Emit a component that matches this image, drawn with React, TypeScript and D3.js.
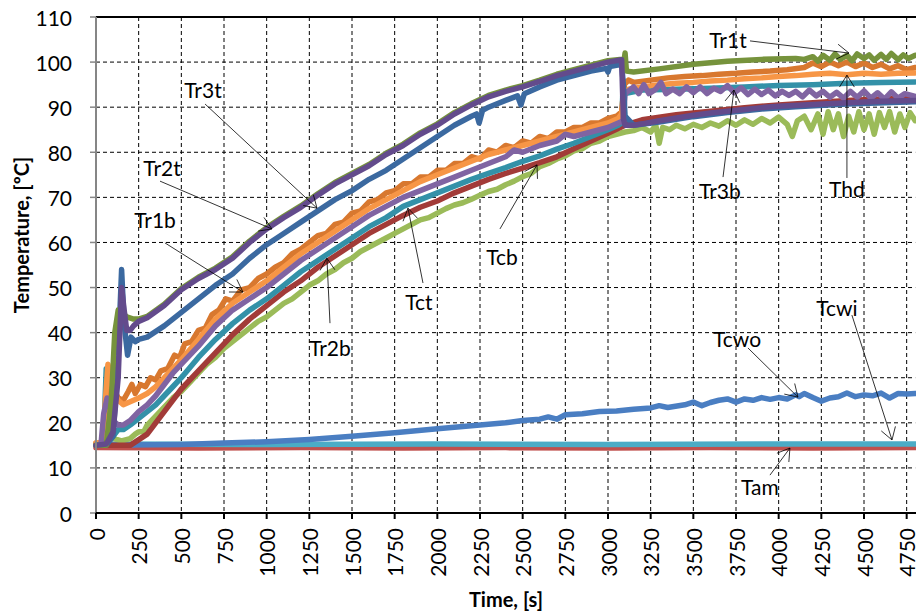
import React from 'react';
import * as d3 from 'd3';

type Pt = [number, number];

// axis ticks
const yTicks = [0, 10, 20, 30, 40, 50, 60, 70, 80, 90, 100, 110];
const xTicks = [0, 250, 500, 750, 1000, 1250, 1500, 1750, 2000, 2250, 2500, 2750, 3000, 3250, 3500, 3750, 4000, 4250, 4500, 4750];

// series: [time s, temperature °C]
const tam: Pt[] = [[0, 14.5], [600, 14.4], [1200, 14.5], [1800, 14.4], [2400, 14.5], [3000, 14.4], [3600, 14.5], [4200, 14.4], [4800, 14.5]];

const tcwi: Pt[] = [[0, 15.3], [1000, 15.2], [2000, 15.3], [3000, 15.2], [4000, 15.3], [4800, 15.3]];

const tcwo: Pt[] = [[0, 15], [500, 15.2], [750, 15.5], [1000, 15.8], [1250, 16.3], [1500, 17], [1750, 17.8], [2000, 18.7], [2250, 19.5], [2400, 20], [2500, 20.5], [2600, 20.8], [2650, 21.3], [2700, 20.8], [2750, 21.8], [2850, 22], [2950, 22.5], [3050, 22.6], [3150, 23], [3250, 23.3], [3300, 23.8], [3350, 23.4], [3450, 24], [3500, 24.6], [3550, 23.8], [3600, 24.5], [3650, 25], [3700, 25.3], [3750, 24.6], [3800, 25.3], [3850, 25], [3900, 25.6], [3950, 25.2], [4000, 25.6], [4050, 25.3], [4100, 26.2], [4120, 25.8], [4150, 26.5], [4200, 25.6], [4250, 24.8], [4300, 25.5], [4350, 25.8], [4400, 26.6], [4450, 25.8], [4500, 26.2], [4550, 26], [4600, 26.6], [4650, 25.5], [4700, 26.5], [4750, 26.4], [4800, 26.5]];

const tcb: Pt[] = [[0, 15], [60, 15.5], [80, 21], [92, 22], [105, 16.5], [150, 16], [200, 16.5], [230, 17.5], [250, 18], [280, 18], [300, 19.5], [350, 21.5], [400, 23.5], [450, 25.5], [500, 27], [550, 29], [600, 31], [650, 33], [700, 34.5], [750, 36.5], [800, 38], [850, 39.5], [900, 41], [950, 42.5], [1000, 43.5], [1050, 45], [1100, 46.5], [1150, 47.5], [1200, 49], [1250, 50.5], [1300, 51.5], [1350, 53], [1400, 54], [1450, 55.5], [1500, 56.5], [1550, 58], [1600, 59], [1650, 60], [1700, 61], [1750, 62], [1800, 63], [1850, 64], [1900, 65], [1950, 65.5], [2000, 66.5], [2050, 67.5], [2100, 68.3], [2150, 68.8], [2200, 69.6], [2250, 70.5], [2300, 71.3], [2350, 71.8], [2400, 72.8], [2450, 73.6], [2500, 74.6], [2550, 75.3], [2600, 76.8], [2650, 77.5], [2700, 78.5], [2750, 79.2], [2800, 80.3], [2850, 80.8], [2900, 82], [2950, 82.5], [3000, 83.5], [3050, 84], [3100, 84.5], [3150, 84.8], [3200, 85.5], [3250, 84.5], [3280, 86], [3300, 82], [3320, 85.5], [3360, 85], [3400, 86], [3450, 85.2], [3500, 86.2], [3550, 85.5], [3600, 86.5], [3650, 85.8], [3700, 87], [3750, 86], [3800, 87.2], [3850, 86.2], [3900, 87.5], [3950, 86.5], [4000, 87.8], [4050, 86.2], [4080, 83.5], [4110, 87], [4150, 88], [4190, 85], [4230, 88.5], [4260, 84], [4290, 89], [4320, 85], [4350, 88.5], [4380, 83.5], [4410, 88], [4440, 84.5], [4470, 89], [4500, 85], [4530, 88.5], [4560, 84], [4590, 88.8], [4620, 85.5], [4650, 89], [4680, 84.5], [4710, 88.5], [4740, 85.5], [4770, 88.8], [4800, 87]];

const tr2b: Pt[] = [[0, 15], [200, 15], [240, 16], [300, 17.5], [350, 20], [400, 22.5], [450, 25], [500, 27.5], [600, 31.5], [700, 35.5], [800, 39.5], [900, 43], [1000, 46], [1100, 49], [1200, 51.5], [1300, 54.5], [1400, 57], [1500, 59.5], [1600, 62], [1700, 64], [1800, 66], [1900, 67.8], [2000, 69.2], [2100, 71], [2200, 72.5], [2300, 74], [2400, 75.3], [2500, 76.5], [2600, 77.7], [2700, 79], [2800, 80.8], [2900, 82.5], [3000, 84.2], [3100, 86], [3200, 87.2], [3300, 87.8], [3400, 88.3], [3500, 88.7], [3600, 89.1], [3700, 89.5], [3800, 89.9], [3900, 90.2], [4000, 90.5], [4200, 91], [4400, 91.5], [4600, 91.8], [4800, 92]];

const tct: Pt[] = [[0, 15], [40, 15], [50, 22], [60, 32], [70, 28], [85, 20], [100, 17], [130, 18.5], [160, 18.5], [200, 19.5], [250, 21], [300, 22.5], [350, 24], [400, 26], [450, 28], [500, 30], [600, 34.5], [700, 38.5], [800, 42], [900, 45], [1000, 47.5], [1100, 50.5], [1200, 53.5], [1300, 56], [1400, 58.5], [1500, 61], [1600, 63.5], [1700, 65.5], [1800, 68], [1900, 69.5], [2000, 71], [2100, 72.5], [2200, 74], [2300, 75.3], [2400, 76.6], [2500, 78], [2600, 79.2], [2700, 80.7], [2800, 82], [2900, 83.5], [3000, 85], [3060, 86], [3080, 86.5], [3090, 96], [3100, 93], [3200, 93.8], [3400, 94], [3600, 94.2], [3800, 94.5], [4000, 94.8], [4200, 95], [4400, 95.3], [4600, 95.5], [4800, 95.6]];

const tr1b: Pt[] = [[0, 15.5], [40, 15.5], [60, 22], [75, 31], [90, 30], [110, 27], [130, 25.5], [160, 25], [190, 27], [210, 28.5], [230, 26.5], [260, 28.5], [290, 28], [320, 30], [350, 29.5], [380, 31.5], [420, 32], [460, 35], [490, 34.5], [520, 37.5], [560, 38], [600, 40.5], [640, 41], [680, 44], [720, 45], [760, 47.5], [800, 47], [850, 49.5], [900, 50], [950, 52], [1000, 53], [1050, 54.5], [1100, 55.5], [1150, 57.5], [1200, 58.5], [1250, 60], [1300, 61.5], [1350, 62], [1400, 64], [1450, 64.5], [1500, 66.5], [1550, 67], [1600, 69], [1650, 69.5], [1700, 71], [1750, 71.5], [1800, 73], [1850, 73], [1900, 74.5], [1950, 74.5], [2000, 76], [2050, 76], [2100, 77.5], [2150, 77.5], [2200, 79], [2250, 78.5], [2300, 80.5], [2350, 80], [2400, 81.5], [2450, 81], [2500, 82.5], [2550, 82], [2600, 83.5], [2650, 83], [2700, 84.5], [2750, 84.5], [2800, 85.5], [2850, 85.5], [2900, 86.5], [2950, 86.5], [3000, 87.5], [3050, 88], [3080, 89], [3095, 95], [3120, 96], [3150, 95.5], [3250, 96], [3350, 96.5], [3450, 96.8], [3550, 97], [3650, 97.3], [3750, 97.5], [3850, 97.8], [3950, 98], [4050, 98.3], [4150, 98.8], [4200, 99.8], [4250, 99], [4300, 100], [4350, 99.2], [4400, 100], [4450, 99], [4500, 99.8], [4550, 98.8], [4600, 99.5], [4650, 98.5], [4700, 99.2], [4750, 98.3], [4800, 98.8]];

const thd: Pt[] = [[0, 15.5], [40, 15.5], [55, 25], [70, 33], [85, 30], [100, 27], [130, 25], [160, 24], [190, 24.5], [220, 25], [250, 25.5], [300, 26.5], [350, 28], [400, 30], [450, 32], [500, 34], [600, 38.5], [700, 43], [800, 46.5], [900, 49], [1000, 51.5], [1100, 54.5], [1200, 57.5], [1300, 60], [1400, 62.5], [1500, 65], [1600, 67.5], [1700, 69.5], [1800, 71.5], [1900, 73.5], [2000, 75], [2100, 76.5], [2200, 78], [2300, 79.5], [2400, 80.5], [2500, 81.5], [2600, 82.5], [2700, 83.5], [2800, 84.5], [2900, 85.5], [3000, 86.5], [3060, 87.5], [3080, 88.5], [3095, 93], [3120, 94], [3200, 94.5], [3300, 95], [3400, 95.3], [3500, 95.5], [3600, 95.8], [3700, 96], [3800, 96.3], [3900, 96.5], [4000, 96.8], [4100, 97], [4200, 97.3], [4300, 97.5], [4400, 97.2], [4500, 97.5], [4600, 97.3], [4700, 97.5], [4800, 97.6]];

const tr3b: Pt[] = [[0, 15], [30, 15.5], [45, 22], [65, 25.5], [85, 23], [100, 20.5], [130, 19.5], [160, 19.5], [200, 20.5], [250, 22.5], [300, 24], [350, 26], [400, 28.5], [450, 31], [500, 33], [600, 37], [700, 41.5], [800, 45], [900, 47.5], [1000, 50], [1100, 53], [1200, 56], [1300, 58.5], [1400, 61], [1500, 63.5], [1600, 66], [1700, 68], [1800, 70], [1900, 71.5], [2000, 73], [2100, 74.5], [2200, 76], [2300, 77.5], [2400, 79], [2450, 80.5], [2500, 80], [2600, 81.5], [2700, 82.5], [2750, 84], [2800, 83.5], [2900, 84.5], [3000, 85.5], [3060, 86.5], [3090, 87], [3100, 93], [3150, 94.5], [3180, 93], [3210, 95], [3240, 93], [3280, 94], [3310, 95.5], [3340, 93], [3380, 94], [3420, 93], [3460, 94.5], [3500, 93.2], [3540, 94.5], [3580, 93], [3620, 94.2], [3660, 93.5], [3700, 94.8], [3740, 93.2], [3780, 94.3], [3820, 92.8], [3860, 94], [3900, 92.8], [3940, 93.8], [3980, 92.5], [4020, 93.5], [4060, 92.6], [4100, 93.5], [4140, 92.3], [4180, 93.8], [4220, 92.5], [4260, 93.5], [4300, 92.2], [4340, 93.3], [4380, 92], [4420, 93.5], [4460, 92.2], [4500, 93.6], [4540, 92], [4580, 93.2], [4620, 91.8], [4660, 93.4], [4700, 92], [4740, 93], [4800, 92.4]];

const tr2t: Pt[] = [[0, 15], [60, 15], [100, 17], [130, 35], [150, 54], [165, 42], [185, 35], [205, 39], [230, 38], [250, 38.5], [300, 39], [400, 41.5], [500, 44.5], [600, 47.5], [700, 50.5], [800, 53], [900, 56.5], [1000, 59.5], [1100, 62], [1200, 64.5], [1300, 67], [1400, 69.5], [1500, 71.5], [1600, 74], [1700, 76], [1800, 78.5], [1900, 81], [2000, 83.5], [2100, 86], [2200, 88], [2230, 88.5], [2245, 86.5], [2265, 89.3], [2300, 90], [2400, 91.5], [2470, 92.5], [2490, 90.5], [2510, 93], [2600, 94.5], [2700, 96], [2800, 97], [2900, 98], [2990, 98.6], [3000, 97.8], [3010, 99], [3080, 99.5], [3090, 95], [3100, 88], [3150, 86], [3300, 86.7], [3500, 87.9], [3700, 88.8], [3900, 89.6], [4100, 90.1], [4400, 90.7], [4800, 91.2]];

const tr1t: Pt[] = [[0, 15], [60, 15], [90, 25], [110, 40], [130, 45], [150, 44.5], [180, 43.5], [220, 43], [250, 43], [300, 43.6], [400, 46.3], [500, 49.8], [600, 52.3], [700, 54.3], [800, 56.8], [900, 60.3], [1000, 63.3], [1100, 65.8], [1200, 68.1], [1300, 70.8], [1400, 73.3], [1500, 75.3], [1600, 77.3], [1700, 79.8], [1800, 81.8], [1900, 84.3], [2000, 86.3], [2100, 88.8], [2200, 90.8], [2300, 92.6], [2400, 93.8], [2500, 94.8], [2600, 96], [2700, 97.3], [2800, 98.3], [2900, 99.3], [3000, 100.3], [3070, 100.6], [3095, 100.6], [3100, 102], [3108, 98], [3150, 97.8], [3300, 98.5], [3500, 99.5], [3700, 100.2], [3900, 100.6], [4100, 100.8], [4150, 100.6], [4200, 101.2], [4230, 100.2], [4260, 101.5], [4300, 100.4], [4330, 101.8], [4360, 100.6], [4400, 101.5], [4430, 100.3], [4460, 101.8], [4500, 100.8], [4530, 101.6], [4560, 100.4], [4600, 101.7], [4630, 100.6], [4660, 101.9], [4700, 100.5], [4730, 101.6], [4760, 100.8], [4800, 101.5]];

const tr3t: Pt[] = [[0, 15], [60, 15.3], [100, 18], [130, 30], [150, 50], [165, 45], [180, 40.5], [200, 40.5], [220, 41.5], [250, 42.5], [300, 43.3], [400, 46], [500, 49.5], [600, 52], [700, 54], [800, 56.5], [900, 60], [1000, 63], [1100, 65.5], [1200, 67.8], [1300, 70.5], [1400, 73], [1500, 75], [1600, 77], [1700, 79.5], [1800, 81.5], [1900, 84], [2000, 86], [2100, 88.5], [2200, 90.5], [2300, 92.3], [2400, 93.5], [2500, 94.5], [2600, 95.7], [2700, 97], [2800, 98], [2900, 99], [3000, 100], [3080, 100.5], [3090, 87.5], [3100, 86], [3150, 86], [3200, 86.3], [3300, 87], [3400, 87.6], [3500, 88.2], [3600, 88.7], [3700, 89.1], [3800, 89.5], [3900, 89.9], [4000, 90.2], [4200, 90.6], [4400, 91], [4600, 91.3], [4800, 91.5]];

// annotation labels with arrow start and arrow tip, in data units
const annLabels = ['Tr3t', 'Tr2t', 'Tr1b', 'Tr2b', 'Tct', 'Tcb', 'Tr1t', 'Tr3b', 'Thd', 'Tcwo', 'Tcwi', 'Tam'];
const annText: Pt[] = [[627, 94], [387, 76.7], [346, 65.2], [1371, 36.6], [1892, 47], [2379, 56.8], [3703, 104.9], [3656, 71.6], [4400, 72], [3756, 38.8], [4341, 45.5], [3890, 5.8]];
const annFrom: Pt[] = [[639, 90.7], [375, 73.6], [404, 59.9], [1371, 42.1], [1916, 51], [2367, 63], [3832, 104.7], [3674, 74.5], [4400, 74.3], [3820, 36.6], [4429, 43.9], [3949, 8.4]];
const annTip: Pt[] = [[1295, 67.6], [1031, 63], [861, 49], [1353, 56.5], [1828, 67.6], [2584, 77.2], [4412, 102], [3738, 93.8], [4400, 97.1], [4113, 25.7], [4664, 16.2], [4066, 14.4]];

const series = [
  { name: 'Tam', data: tam, color: '#C0504D' },
  { name: 'Tcwi', data: tcwi, color: '#4BACC6' },
  { name: 'Tcwo', data: tcwo, color: '#4A7EC2' },
  { name: 'Tcb', data: tcb, color: '#9BBB59' },
  { name: 'Tr2b', data: tr2b, color: '#A23B38' },
  { name: 'Tct', data: tct, color: '#3391A8' },
  { name: 'Tr1b', data: tr1b, color: '#D8782F' },
  { name: 'Thd', data: thd, color: '#F79646' },
  { name: 'Tr3b', data: tr3b, color: '#8064A2' },
  { name: 'Tr2t', data: tr2t, color: '#3B69A0' },
  { name: 'Tr1t', data: tr1t, color: '#76933C' },
  { name: 'Tr3t', data: tr3t, color: '#634B8C' },
];

const FONT = 'Lato, "Open Sans", sans-serif';

export default function App() {
  const width = 916;
  const height = 616;
  const margin = { top: 17, right: 0.8, bottom: 103, left: 96 };

  const x = d3.scaleLinear().domain([0, 4800]).range([margin.left, width - margin.right]);
  const y = d3.scaleLinear().domain([0, 110]).range([height - margin.bottom, margin.top]);
  const line = d3.line<Pt>().x((d) => x(d[0])).y((d) => y(d[1]));

  const x0 = x(0);
  const x1 = x(4800);
  const y0 = y(0);
  const yTop = y(110);

  // open arrow head
  const arrowHead = (from: Pt, tip: Pt) => {
    const fx = x(from[0]);
    const fy = y(from[1]);
    const tx = x(tip[0]);
    const ty = y(tip[1]);
    const ang = Math.atan2(fy - ty, fx - tx);
    const len = 14;
    const spread = (32 * Math.PI) / 180;
    const a = [tx + len * Math.cos(ang - spread), ty + len * Math.sin(ang - spread)];
    const b = [tx + len * Math.cos(ang + spread), ty + len * Math.sin(ang + spread)];
    return `M${a[0]},${a[1]}L${tx},${ty}L${b[0]},${b[1]}`;
  };

  return (
    <svg width={width} height={height} style={{ position: 'absolute', left: 0, top: 0, background: '#fff' }} fontFamily={FONT}>
      <rect x={0} y={0} width={width} height={height} fill="#fff" />

      {/* gridlines */}
      {yTicks.filter((t) => t > 0 && t < 110).map((t) => (
        <line key={'gy' + t} x1={x0} x2={x1} y1={y(t)} y2={y(t)} stroke="#000" strokeWidth={1} strokeDasharray="4,3" />
      ))}
      {xTicks.filter((t) => t > 0).map((t) => (
        <line key={'gx' + t} x1={x(t)} x2={x(t)} y1={yTop} y2={y0} stroke="#000" strokeWidth={1} strokeDasharray="4,3" />
      ))}

      {/* series */}
      <g fill="none" strokeLinejoin="round" strokeLinecap="round">
        {series.map((s) => (
          <path key={s.name} d={line(s.data) || ''} stroke={s.color} strokeWidth={5.5} />
        ))}
      </g>

      {/* frame and axes */}
      <line x1={x0} x2={x1 + 1} y1={yTop} y2={yTop} stroke="#000" strokeWidth={2} />
      <line x1={x0} x2={x0} y1={yTop} y2={y0} stroke="#868686" strokeWidth={2} />
      <line x1={x0 - 1} x2={x1 + 1} y1={y0} y2={y0} stroke="#000" strokeWidth={2} />

      {yTicks.map((t) => (
        <g key={'yt' + t}>
          <line x1={x0 - 6} x2={x0} y1={y(t)} y2={y(t)} stroke="#868686" strokeWidth={1.5} />
          <text x={72} y={y(t)} textAnchor="end" dominantBaseline="central" fontSize={21} fill="#000">{t}</text>
        </g>
      ))}
      {xTicks.map((t) => (
        <g key={'xt' + t}>
          <line x1={x(t)} x2={x(t)} y1={y0} y2={y0 + 6} stroke="#000" strokeWidth={2} />
          <text transform={`translate(${x(t)},${y0 + 15}) rotate(-90)`} textAnchor="end" dominantBaseline="central" fontSize={21} fill="#000">{t}</text>
        </g>
      ))}

      <text x={506} y={607} textAnchor="middle" fontSize={20} fontWeight="bold" fill="#000">Time, [s]</text>
      <text transform={`translate(29,${(yTop + y0) / 2 - 30}) rotate(-90)`} textAnchor="middle" fontSize={20} fontWeight="bold" fill="#000">Temperature, [ºC]</text>

      {/* annotations */}
      <g stroke="#000" strokeWidth={0.8} fill="none">
        {annLabels.map((lab, i) => (
          <g key={'al' + lab}>
            <line x1={x(annFrom[i][0])} y1={y(annFrom[i][1])} x2={x(annTip[i][0])} y2={y(annTip[i][1])} />
            <path d={arrowHead(annFrom[i], annTip[i])} />
          </g>
        ))}
      </g>
      {annLabels.map((lab, i) => (
        <text key={'at' + lab} x={x(annText[i][0])} y={y(annText[i][1])} textAnchor="middle" dominantBaseline="central" fontSize={21} fill="#000">{lab}</text>
      ))}
    </svg>
  );
}
